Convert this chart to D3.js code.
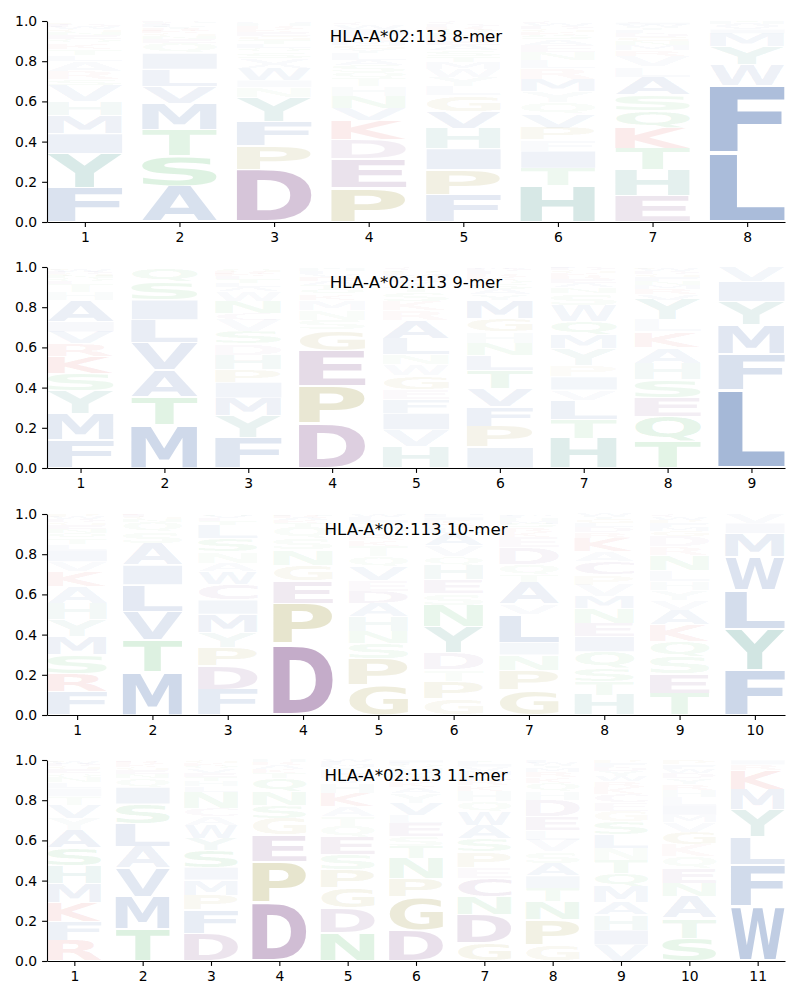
<!DOCTYPE html>
<html><head><meta charset="utf-8">
<script src="https://cdn.jsdelivr.net/npm/d3@7"></script>
<style>body{margin:0;background:#fff}</style>
</head><body>
<svg id="chart" width="800" height="1000"></svg>
<script>
const titles = ["HLA-A*02:113 8-mer","HLA-A*02:113 9-mer","HLA-A*02:113 10-mer","HLA-A*02:113 11-mer"];
const yTicks = [0,0.2,0.4,0.6,0.8,1.0];

// each column: [residue, frequency] listed bottom to top
const mer8 = [
 [["F",.17],["Y",.17],["I",.10],["M",.09],["H",.07],["V",.08],["S",.03],["R",.04],["A",.05],["L",.03],["T",.03],["K",.03],["Q",.02],["E",.02],["N",.015],["G",.015],["W",.01],["D",.01],["C",.005],["P",.005]],
 [["A",.18],["S",.15],["T",.13],["M",.13],["V",.085],["L",.085],["I",.08],["Q",.05],["E",.02],["N",.015],["G",.015],["K",.01],["R",.01],["Y",.01],["F",.01],["C",.01],["H",.005],["D",.005]],
 [["D",.26],["P",.12],["F",.12],["Y",.12],["N",.05],["I",.035],["W",.06],["A",.02],["V",.03],["S",.03],["Q",.02],["L",.02],["T",.02],["G",.02],["E",.02],["K",.015],["R",.015],["H",.015],["M",.015],["C",.005]],
 [["P",.17],["E",.145],["D",.095],["K",.095],["V",.06],["N",.06],["H",.05],["T",.04],["Q",.03],["S",.035],["A",.025],["L",.035],["Y",.02],["G",.02],["M",.02],["R",.02],["F",.02],["I",.02],["W",.02],["C",.015]],
 [["F",.135],["P",.125],["I",.105],["H",.10],["V",.085],["G",.08],["L",.045],["Y",.045],["W",.04],["M",.035],["T",.03],["S",.03],["A",.025],["E",.02],["K",.02],["N",.02],["Q",.015],["R",.015],["D",.015],["C",.01]],
 [["H",.18],["T",.087],["I",.086],["F",.055],["P",.06],["V",.07],["Q",.055],["Y",.055],["M",.06],["R",.055],["L",.04],["N",.04],["E",.035],["A",.03],["S",.02],["K",.015],["G",.015],["D",.015],["W",.01],["C",.01]],
 [["E",.13],["H",.128],["T",.108],["K",.10],["Q",.086],["S",.08],["A",.09],["L",.05],["V",.055],["R",.03],["M",.025],["N",.02],["G",.02],["D",.02],["F",.015],["Y",.015],["W",.01],["I",.01],["C",.005]],
 [["L",.344],["F",.336],["W",.103],["Y",.089],["M",.066],["I",.02],["V",.015],["A",.01],["H",.01],["T",.005]]
];
const mer9 = [
 [["F",.14],["M",.13],["Y",.115],["S",.085],["K",.085],["R",.063],["V",.06],["I",.05],["A",.105],["H",.04],["T",.04],["E",.015],["Q",.015],["N",.01],["G",.01],["D",.01],["W",.01],["P",.005],["C",.005]],
 [["M",.214],["T",.14],["A",.135],["V",.135],["L",.113],["I",.10],["S",.088],["Q",.07]],
 [["F",.15],["Y",.11],["M",.088],["I",.078],["P",.065],["H",.072],["D",.055],["S",.06],["V",.058],["C",.033],["N",.06],["W",.05],["A",.02],["L",.02],["T",.02],["E",.015],["K",.01],["R",.01],["G",.01],["Q",.005]],
 [["D",.222],["P",.186],["E",.176],["G",.103],["S",.05],["N",.05],["M",.05],["K",.03],["Q",.025],["T",.02],["A",.02],["R",.02],["V",.015],["L",.015],["H",.01],["Y",.01]],
 [["H",.106],["V",.084],["I",.082],["F",.07],["E",.05],["G",.067],["W",.055],["N",.05],["L",.08],["A",.09],["R",.05],["K",.045],["S",.045],["T",.03],["Y",.025],["D",.02],["M",.015],["P",.01],["Q",.01],["C",.01]],
 [["I",.103],["P",.103],["F",.099],["V",.091],["T",.091],["L",.074],["N",.06],["H",.057],["G",.067],["M",.091],["Y",.03],["A",.025],["S",.025],["Q",.02],["K",.015],["R",.015],["E",.015],["D",.01],["W",.01]],
 [["H",.148],["T",.094],["L",.096],["V",.05],["I",.066],["P",.058],["Y",.084],["M",.066],["Q",.066],["W",.083],["S",.057],["N",.03],["A",.02],["E",.02],["R",.015],["K",.015],["G",.015],["D",.01],["F",.005]],
 [["T",.131],["Q",.124],["E",.097],["S",.086],["H",.083],["A",.079],["K",.078],["L",.058],["Y",.10],["V",.03],["R",.025],["M",.02],["N",.02],["F",.02],["G",.015],["D",.015],["W",.01],["P",.01]],
 [["L",.39],["F",.177],["M",.145],["Y",.116],["I",.10],["V",.072]]
];
const mer10 = [
 [["F",.116],["R",.091],["S",.092],["M",.091],["Y",.083],["H",.083],["A",.083],["K",.074],["V",.05],["I",.058],["L",.03],["T",.03],["Q",.025],["N",.02],["E",.02],["G",.015],["D",.015],["W",.01],["P",.01],["C",.005]],
 [["M",.216],["T",.157],["V",.141],["L",.133],["I",.099],["A",.108],["S",.058],["Q",.048],["N",.015],["G",.01],["E",.01],["K",.005]],
 [["F",.128],["D",.118],["P",.089],["Y",.077],["M",.089],["I",.071],["C",.08],["W",.061],["A",.042],["N",.057],["S",.067],["L",.066],["T",.02],["E",.015],["V",.01],["Q",.01]],
 [["D",.352],["P",.204],["E",.111],["G",.079],["N",.075],["S",.058],["Q",.058],["T",.02],["K",.015],["A",.01],["R",.01],["H",.008]],
 [["G",.149],["P",.13],["S",.077],["N",.059],["H",.075],["A",.066],["D",.061],["E",.055],["V",.066],["Q",.049],["T",.054],["K",.03],["R",.025],["L",.02],["M",.02],["Y",.02],["I",.015],["F",.015],["W",.01]],
 [["G",.08],["P",.086],["T",.058],["D",.083],["Y",.133],["N",.107],["S",.058],["E",.067],["H",.074],["Q",.041],["V",.054],["A",.063],["L",.025],["R",.02],["K",.02],["I",.015],["F",.01],["M",.006]],
 [["G",.124],["P",.10],["N",.075],["I",.062],["L",.14],["V",.05],["A",.108],["T",.037],["Q",.054],["D",.083],["E",.054],["K",.025],["R",.02],["S",.02],["M",.015],["H",.015],["F",.01],["W",.01]],
 [["H",.10],["T",.066],["S",.066],["Q",.083],["I",.075],["E",.066],["N",.074],["M",.059],["V",.058],["P",.05],["C",.066],["A",.05],["K",.066],["R",.03],["D",.025],["L",.02],["G",.02],["Y",.015],["W",.011]],
 [["T",.108],["E",.099],["S",.084],["Q",.074],["K",.083],["A",.074],["V",.05],["Y",.05],["H",.042],["L",.057],["N",.075],["R",.041],["D",.053],["G",.025],["M",.02],["F",.02],["P",.015],["W",.015],["C",.015]],
 [["F",.224],["Y",.204],["L",.194],["W",.166],["M",.116],["I",.05],["V",.046]]
];
const mer11 = [
 [["R",.101],["F",.095],["K",.094],["M",.093],["H",.09],["S",.088],["A",.091],["Y",.058],["V",.066],["T",.042],["I",.041],["L",.03],["N",.025],["Q",.02],["E",.02],["G",.015],["D",.01],["W",.01],["P",.006],["C",.005]],
 [["T",.158],["M",.162],["V",.141],["A",.108],["L",.113],["S",.099],["I",.083],["Q",.045],["N",.02],["E",.02],["G",.015],["K",.015],["R",.011],["D",.01]],
 [["D",.138],["F",.116],["P",.074],["M",.075],["I",.063],["S",.086],["Y",.059],["W",.066],["A",.041],["C",.041],["N",.083],["L",.03],["H",.025],["T",.02],["E",.02],["V",.02],["Q",.015],["K",.015],["G",.013]],
 [["D",.29],["P",.204],["E",.133],["G",.083],["S",.066],["N",.066],["Q",.067],["T",.025],["K",.02],["A",.02],["R",.015],["H",.011]],
 [["N",.14],["D",.122],["G",.10],["P",.091],["S",.075],["E",.088],["Q",.056],["T",.046],["A",.05],["K",.066],["H",.05],["V",.025],["R",.02],["L",.02],["Y",.015],["M",.015],["F",.01],["W",.011]],
 [["D",.154],["G",.166],["P",.091],["N",.10],["T",.06],["S",.05],["E",.066],["L",.04],["V",.06],["Y",.05],["A",.03],["K",.03],["R",.025],["M",.02],["H",.02],["Q",.015],["F",.01],["I",.013]],
 [["G",.088],["D",.141],["N",.091],["C",.091],["E",.055],["P",.078],["S",.066],["A",.067],["W",.066],["Q",.05],["H",.053],["K",.03],["R",.025],["L",.025],["M",.02],["V",.02],["I",.015],["F",.01],["T",.009]],
 [["G",.08],["P",.124],["N",.091],["T",.066],["I",.062],["A",.063],["S",.058],["V",.058],["L",.05],["E",.066],["D",.083],["H",.04],["Q",.043],["K",.03],["R",.025],["M",.02],["Y",.015],["W",.013],["F",.013]],
 [["V",.08],["I",.074],["H",.075],["A",.061],["M",.08],["Q",.066],["T",.066],["N",.058],["L",.067],["S",.066],["G",.053],["E",.041],["C",.042],["K",.035],["R",.03],["W",.025],["Y",.025],["D",.02],["F",.02],["P",.016]],
 [["S",.113],["T",.099],["A",.108],["N",.066],["E",.075],["Q",.058],["K",.058],["G",.062],["V",.05],["M",.037],["I",.05],["L",.041],["H",.035],["R",.03],["Y",.03],["D",.025],["W",.02],["F",.02],["P",.023]],
 [["W",.27],["F",.207],["L",.139],["Y",.135],["M",.103],["K",.093],["R",.03],["I",.023]]
];
const panels = [mer8, mer9, mer10, mer11];

const groupColors = {
  hydrophobic: "#4c72b0", aromaticPolar: "#46968c", acidic: "#85548f",
  special: "#a0963c", polar: "#46b45a", basic: "#dc4646"
};
const residueGroup = {
  A:"hydrophobic",F:"hydrophobic",I:"hydrophobic",L:"hydrophobic",M:"hydrophobic",V:"hydrophobic",W:"hydrophobic",
  H:"aromaticPolar",Y:"aromaticPolar",
  D:"acidic",E:"acidic",C:"acidic",
  P:"special",G:"special",
  S:"polar",T:"polar",N:"polar",Q:"polar",
  K:"basic",R:"basic"
};
const alphaOf = v => Math.max(0.035, Math.min(0.5, 0.5 * Math.pow(v / 0.36, 1.2)));

const svg = d3.select("#chart");
const LEFT = 47, RIGHT = 785, H = 201;
const tops = [21, 267, 514, 760];
const FS = 100;
const FONT = "DejaVu Sans";

const ctx = document.createElement("canvas").getContext("2d");
ctx.font = `bold ${FS}px "${FONT}"`;
const metricCache = {};
function metrics(ch) {
  if (!metricCache[ch]) {
    const t = ctx.measureText(ch);
    metricCache[ch] = {l: t.actualBoundingBoxLeft, r: t.actualBoundingBoxRight,
                       a: t.actualBoundingBoxAscent, d: t.actualBoundingBoxDescent};
  }
  return metricCache[ch];
}

panels.forEach((cols, i) => {
  const n = cols.length;
  const x = d3.scaleLinear().domain([0.6, n + 0.4]).range([LEFT, RIGHT]);
  const y = d3.scaleLinear().domain([0, 1]).range([tops[i] + H, tops[i]]);
  const g = svg.append("g");
  const lg = g.append("g");

  cols.forEach((col, j) => {
    const pos = j + 1;
    let cum = 0;
    col.forEach(([aa, v]) => {
      const y0 = cum, y1 = cum + v;
      cum = y1;
      const pad = v * 0.03;
      const bx = x(pos - 0.395), bw = x(pos + 0.395) - bx;
      const by = y(Math.min(0.999, y1 - pad)), bh = y(y0 + pad) - by;
      const mt = metrics(aa);
      const sx = bw / (mt.l + mt.r), sy = bh / (mt.a + mt.d);
      lg.append("text")
        .attr("font-family", FONT).attr("font-weight", "bold").attr("font-size", FS)
        .attr("transform", `translate(${bx + mt.l * sx},${by + mt.a * sy}) scale(${sx},${sy})`)
        .attr("fill", groupColors[residueGroup[aa]])
        .attr("fill-opacity", alphaOf(v))
        .text(aa);
    });
  });

  const yAxis = d3.axisLeft(y).tickValues(yTicks).tickFormat(d3.format(".1f"))
    .tickSize(4.9).tickPadding(4.9).tickSizeOuter(0);
  const xAxis = d3.axisBottom(x).tickValues(d3.range(1, n + 1)).tickFormat(d3.format("d"))
    .tickSize(4.9).tickPadding(4.9).tickSizeOuter(0);

  const ya = g.append("g").attr("transform", `translate(${LEFT},0)`).call(yAxis);
  const xa = g.append("g").attr("transform", `translate(0,${tops[i] + H})`).call(xAxis);
  [ya, xa].forEach(a => {
    a.attr("font-family", FONT).attr("font-size", 13.9);
    a.selectAll("path, line").attr("stroke", "#000").attr("stroke-width", 1.1);
    a.selectAll("text").attr("fill", "#000");
  });

  g.append("text")
    .attr("x", (LEFT + RIGHT) / 2).attr("y", tops[i] + 21)
    .attr("text-anchor", "middle")
    .attr("font-family", FONT).attr("font-size", 16.67)
    .attr("fill", "#000")
    .text(titles[i]);
});
</script>
</body></html>
